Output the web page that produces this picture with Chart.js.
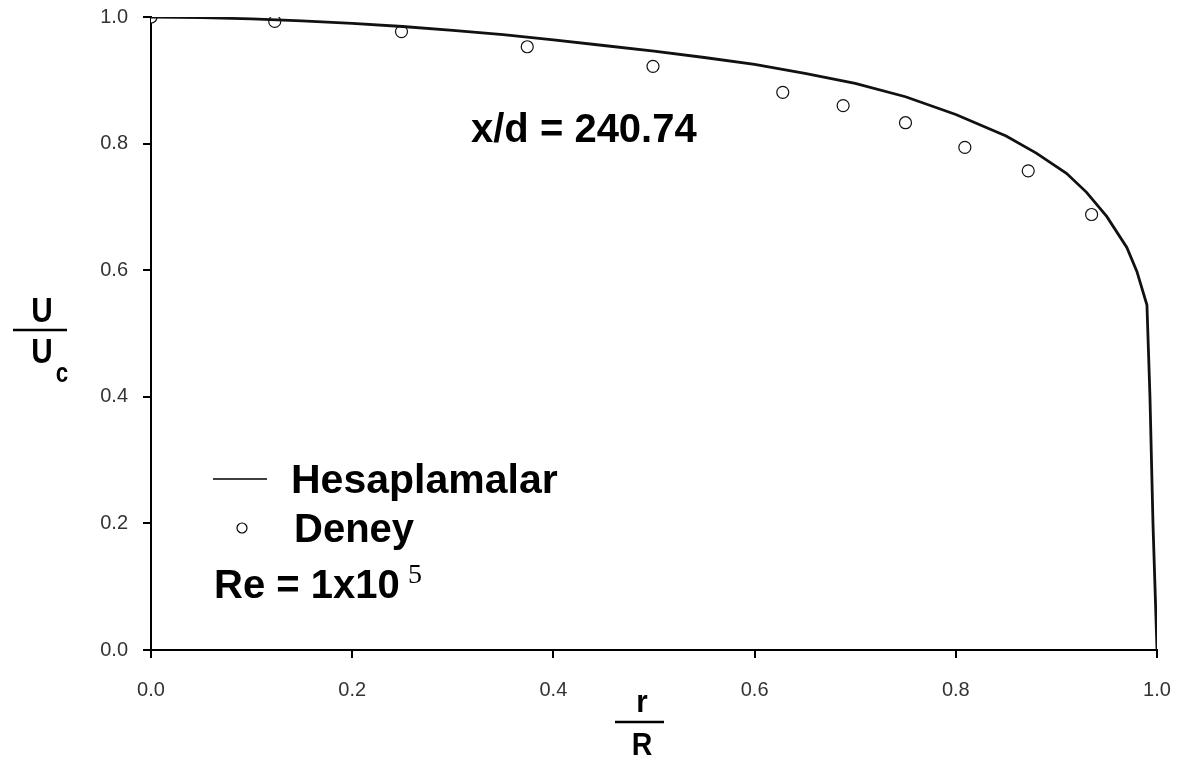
<!DOCTYPE html>
<html>
<head>
<meta charset="utf-8">
<script src="https://cdn.jsdelivr.net/npm/chart.js@4"></script>
<style>
  html, body { margin: 0; padding: 0; background: #fff; }
  #wrap { width: 1178px; height: 765px; }
</style>
</head>
<body>
<div id="wrap"><canvas id="myChart"></canvas></div>
<script>
// r/R positions and U/Uc values
const calcR = [0, 0.05, 0.1, 0.15, 0.2, 0.25, 0.3, 0.35, 0.4, 0.45, 0.5, 0.55, 0.6, 0.65, 0.7, 0.75, 0.8, 0.85, 0.88, 0.91, 0.93, 0.95, 0.97, 0.98, 0.99, 0.993, 0.996, 1.0];
const calcU = [1.0, 0.999, 0.997, 0.994, 0.99, 0.985, 0.979, 0.972, 0.964, 0.955, 0.946, 0.936, 0.925, 0.911, 0.895, 0.874, 0.846, 0.812, 0.785, 0.753, 0.723, 0.685, 0.636, 0.598, 0.545, 0.4, 0.2, 0.0];

const expR = [0, 0.123, 0.249, 0.374, 0.499, 0.628, 0.688, 0.750, 0.809, 0.872, 0.935];
const expU = [1.0, 0.993, 0.977, 0.953, 0.922, 0.881, 0.860, 0.833, 0.794, 0.757, 0.688];

const tickVals = [0, 0.2, 0.4, 0.6, 0.8, 1.0];

const toXY = (xs, ys) => xs.map((x, i) => ({ x: x, y: ys[i] }));

const boldFont = (s) => 'bold ' + s + 'px "Liberation Sans", Arial, sans-serif';

// narrow bold glyph, centred on cx
function narrowText(c, txt, cx, y, size, sx) {
  c.save();
  c.translate(cx, y);
  c.scale(sx, 1);
  c.font = boldFont(size);
  c.textAlign = 'center';
  c.fillText(txt, 0, 0);
  c.restore();
}

const textPlugin = {
  id: 'texts',
  afterDraw(chart) {
    const c = chart.ctx;
    c.save();
    c.fillStyle = '#000';
    c.strokeStyle = '#000';
    c.textBaseline = 'alphabetic';
    c.textAlign = 'left';

    // annotation
    c.font = boldFont(40);
    c.fillText('x/d = 240.74', 471, 142);

    // legend
    c.lineWidth = 1.5;
    c.beginPath();
    c.moveTo(213, 479);
    c.lineTo(267, 479);
    c.stroke();
    c.font = boldFont(41);
    c.fillText('Hesaplamalar', 291, 493);

    c.beginPath();
    c.arc(242, 528, 5, 0, Math.PI * 2);
    c.fillStyle = '#fff';
    c.fill();
    c.lineWidth = 1.2;
    c.stroke();
    c.fillStyle = '#000';
    c.font = boldFont(40);
    c.fillText('Deney', 294, 542);

    c.fillText('Re = 1x10', 214, 598);
    c.font = '28px "Liberation Serif", "Times New Roman", serif';
    c.fillText('5', 408, 583);

    // y axis title  U / Uc
    narrowText(c, 'U', 42, 322, 35, 0.85);
    narrowText(c, 'U', 42, 363, 35, 0.85);
    narrowText(c, 'c', 62, 382, 28, 0.8);
    c.lineWidth = 2.5;
    c.beginPath();
    c.moveTo(13, 330);
    c.lineTo(67, 330);
    c.stroke();

    // x axis title  r / R
    narrowText(c, 'r', 642, 712, 31, 0.95);
    narrowText(c, 'R', 642, 755, 31, 0.92);
    c.beginPath();
    c.moveTo(615, 722);
    c.lineTo(664, 722);
    c.stroke();
    c.restore();
  }
};

const tickFont = { family: '"Liberation Sans", Arial, sans-serif', size: 20 };

const axisStyle = {
  type: 'linear',
  min: 0,
  max: 1,
  grid: { display: true, drawOnChartArea: false, drawTicks: true, tickLength: 8, color: '#000', lineWidth: 2 },
  border: { display: true, color: '#000', width: 2 },
  afterBuildTicks: (axis) => { axis.ticks = tickVals.map(v => ({ value: v })); }
};

new Chart(document.getElementById('myChart'), {
  type: 'scatter',
  data: {
    datasets: [
      {
        label: 'Hesaplamalar',
        data: toXY(calcR, calcU),
        showLine: true,
        borderColor: '#111',
        borderWidth: 2.8,
        pointRadius: 0,
        tension: 0
      },
      {
        label: 'Deney',
        data: toXY(expR, expU),
        showLine: false,
        pointRadius: 6,
        pointBorderWidth: 1.2,
        pointBorderColor: '#111',
        pointBackgroundColor: '#fff'
      }
    ]
  },
  options: {
    responsive: true,
    maintainAspectRatio: false,
    animation: false,
    layout: { padding: { left: 0, right: 21, top: 17, bottom: 0 } },
    scales: {
      x: Object.assign({}, axisStyle, {
        ticks: { padding: 20, color: '#333', font: tickFont, callback: (v) => v.toFixed(1) },
        afterFit: (axis) => { axis.height = 115; axis.paddingLeft = 0; axis.paddingRight = 0; }
      }),
      y: Object.assign({}, axisStyle, {
        ticks: { padding: 15, color: '#333', font: tickFont, callback: (v) => v.toFixed(1) },
        afterFit: (axis) => { axis.width = 151; axis.paddingTop = 0; axis.paddingBottom = 0; }
      })
    },
    plugins: {
      legend: { display: false },
      tooltip: { enabled: false }
    }
  },
  plugins: [textPlugin]
});
</script>
</body>
</html>
